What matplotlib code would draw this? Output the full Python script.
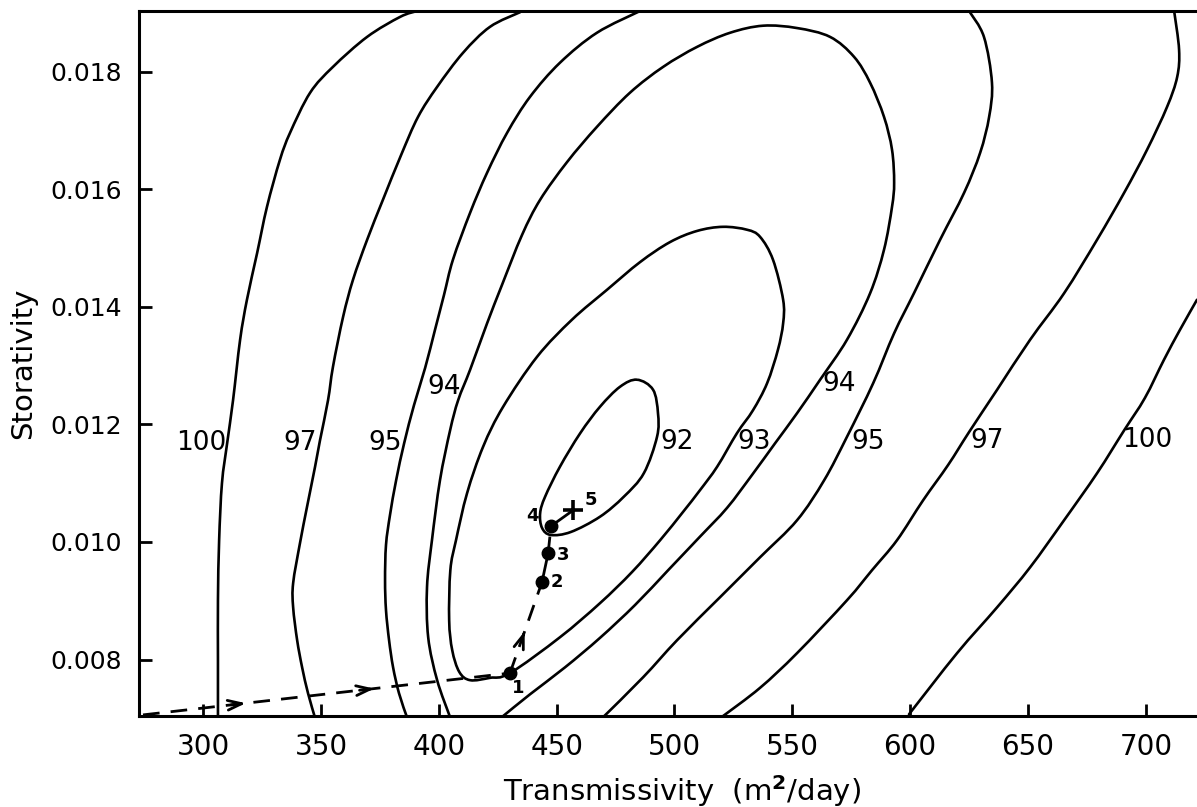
import matplotlib
matplotlib.use("Agg")
import matplotlib.pyplot as plt
from matplotlib.path import Path
from matplotlib.patches import PathPatch

# ---------------- data (T in m^2/day, S dimensionless) ----------------
c100L_T = [390.8, 383.6, 369.6, 355.1, 345.4, 336.9, 332.6, 327.1, 322.9, 318.6, 315.7, 312.7, 310.2, 308.0, 306.8, 306.3, 306.3, 306.3]
c100L_S = [0.01903, 0.01893, 0.01859, 0.01808, 0.01764, 0.01696, 0.01650, 0.01570, 0.01491, 0.01412, 0.01344, 0.01241, 0.01168, 0.01100, 0.01003, 0.00901, 0.00799, 0.00702]

c97L_T = [434.5, 421.7, 410.3, 399.3, 391.2, 384.0, 376.3, 369.6, 363.6, 359.4, 355.1, 353.0, 349.6, 347.5, 344.1, 341.1, 338.2, 338.2, 339.9, 342.0, 344.5, 347.5]
c97L_S = [0.01901, 0.01876, 0.01832, 0.01774, 0.01723, 0.01658, 0.01582, 0.01514, 0.01446, 0.01383, 0.01298, 0.01241, 0.01173, 0.01128, 0.01060, 0.00998, 0.00930, 0.00889, 0.00833, 0.00787, 0.00743, 0.00701]

c95L_T = [485.4, 467.1, 451.4, 438.7, 429.0, 420.5, 413.3, 406.0, 402.2, 398.4, 394.2, 389.5, 385.3, 381.9, 379.3, 377.6, 377.2, 377.6, 378.9, 380.6, 383.1, 386.5]
c95L_S = [0.01903, 0.01866, 0.01815, 0.01757, 0.01696, 0.01628, 0.01560, 0.01480, 0.01420, 0.01361, 0.01296, 0.01233, 0.01168, 0.01105, 0.01046, 0.00995, 0.00935, 0.00884, 0.00833, 0.00787, 0.00743, 0.00702]

c94_T = [404.8, 399.3, 395.5, 395.0, 397.1, 400.5, 404.8, 408.2, 413.3, 420.5, 426.8, 435.3, 443.0, 454.4, 467.1, 481.1, 495.2, 509.6, 523.6, 537.6, 552.0, 566.0, 576.2, 583.0, 588.9, 592.3, 593.2, 592.3, 588.9, 583.0, 573.2, 561.8, 552.0, 542.7, 532.9, 522.3, 510.8, 497.3, 483.3, 468.4, 453.6, 438.7, 427.3]
c94_S = [0.00702, 0.00765, 0.00838, 0.00923, 0.01003, 0.01105, 0.01190, 0.01241, 0.01293, 0.01372, 0.01437, 0.01522, 0.01582, 0.01646, 0.01706, 0.01764, 0.01808, 0.01842, 0.01866, 0.01878, 0.01874, 0.01859, 0.01825, 0.01781, 0.01723, 0.01667, 0.01611, 0.01570, 0.01497, 0.01423, 0.01344, 0.01276, 0.01219, 0.01168, 0.01114, 0.01058, 0.01009, 0.00952, 0.00893, 0.00837, 0.00787, 0.00741, 0.00704]

c93_T = [407.3, 412.0, 418.8, 427.3, 441.7, 456.5, 471.4, 485.4, 498.1, 509.6, 520.6, 530.8, 536.3, 541.8, 546.1, 546.1, 543.9, 539.3, 533.3, 526.5, 518.1, 510.8, 503.6, 493.9, 482.0, 468.4, 451.4, 430.2, 421.7, 413.3, 408.7, 405.7, 404.4, 404.9]
c93_S = [0.01003, 0.01083, 0.01162, 0.01230, 0.01315, 0.01378, 0.01429, 0.01476, 0.01510, 0.01529, 0.01536, 0.01531, 0.01519, 0.01480, 0.01412, 0.01372, 0.01327, 0.01270, 0.01224, 0.01185, 0.01128, 0.01088, 0.01051, 0.01003, 0.00949, 0.00896, 0.00838, 0.00777, 0.00769, 0.00765, 0.00779, 0.00816, 0.00867, 0.00952]

c92_T = [484.1, 490.9, 493.0, 492.6, 487.0, 478.5, 468.4, 456.0, 447.5, 443.8, 443.0, 445.1, 451.4, 460.0, 468.4, 476.9]
c92_S = [0.01276, 0.01259, 0.01219, 0.01179, 0.01117, 0.01077, 0.01043, 0.01017, 0.01012, 0.01024, 0.01049, 0.01077, 0.01128, 0.01185, 0.01230, 0.01264]

c95R_T = [625.0, 631.3, 634.7, 633.5, 629.7, 622.9, 612.7, 601.6, 593.2, 584.3, 573.2, 563.5, 552.0, 536.3, 519.3, 501.1, 486.7, 469.7]
c95R_S = [0.01903, 0.01859, 0.01781, 0.01723, 0.01662, 0.01594, 0.01514, 0.01423, 0.01355, 0.01270, 0.01179, 0.01105, 0.01037, 0.00974, 0.00906, 0.00833, 0.00770, 0.00702]

c97R_T = [712.0, 714.1, 713.3, 709.0, 700.5, 690.8, 679.3, 665.3, 650.9, 636.9, 625.0, 616.1, 605.5, 594.4, 583.8, 573.2, 552.0, 536.3, 520.6]
c97R_S = [0.01903, 0.01837, 0.01791, 0.01740, 0.01667, 0.01594, 0.01514, 0.01423, 0.01344, 0.01259, 0.01187, 0.01131, 0.01071, 0.01003, 0.00952, 0.00901, 0.00811, 0.00752, 0.00704]

c100R_T = [721.7, 714.5, 707.7, 699.6, 690.8, 679.3, 665.3, 650.9, 636.9, 619.9, 599.5]
c100R_S = [0.01412, 0.01361, 0.01310, 0.01245, 0.01190, 0.01117, 0.01037, 0.00957, 0.00889, 0.00811, 0.00707]

# contour labels
label_text = ["100", "97", "95", "94", "92", "93", "94", "95", "97", "100"]
label_T = [299.1, 341.1, 377.2, 402.2, 501.1, 533.8, 569.8, 582.1, 632.6, 700.5]
label_S = [0.01168, 0.01168, 0.01168, 0.01264, 0.01170, 0.01170, 0.01269, 0.01170, 0.01172, 0.01173]

# search path (start, iterations 1..5)
path_T = [274.5, 430.2, 443.8, 446.4, 447.6, 457.0]
path_S = [0.00706, 0.00777, 0.00932, 0.00981, 0.01027, 0.01054]
step_labels = ["1", "2", "3", "4", "5"]
step_label_T = [433.6, 450.2, 452.7, 439.6, 464.6]
step_label_S = [0.00752, 0.00932, 0.00978, 0.01044, 0.01071]

x_ticks = [300, 350, 400, 450, 500, 550, 600, 650, 700]
y_ticks = [0.008, 0.010, 0.012, 0.014, 0.016, 0.018]
y_ticklabels = ["0.008", "0.010", "0.012", "0.014", "0.016", "0.018"]

# ---------------- figure ----------------
W, H = 1197, 807
fig = plt.figure(figsize=(W / 100, H / 100), dpi=100)
ax = fig.add_axes([139 / W, 91 / H, 1058 / W, 705 / H])
ax.set_xlim(272.8, 721.7)
ax.set_ylim(0.007041, 0.01903)

lw = 1.9


def smooth_path(T, S, closed=False):
    """Catmull-Rom curve through the read points, drawn as cubic Bezier path."""
    pts = list(zip(T, S))
    n = len(pts)
    verts = [pts[0]]
    codes = [Path.MOVETO]
    segs = n if closed else n - 1
    for i in range(segs):
        p1 = pts[i]
        p2 = pts[(i + 1) % n]
        if closed:
            p0 = pts[(i - 1) % n]
            p3 = pts[(i + 2) % n]
        else:
            p0 = pts[i - 1] if i > 0 else p1
            p3 = pts[i + 2] if i + 2 < n else p2
        c1 = (p1[0] + (p2[0] - p0[0]) / 6.0, p1[1] + (p2[1] - p0[1]) / 6.0)
        c2 = (p2[0] - (p3[0] - p1[0]) / 6.0, p2[1] - (p3[1] - p1[1]) / 6.0)
        verts += [c1, c2, p2]
        codes += [Path.CURVE4] * 3
    return Path(verts, codes)


open_contours = [(c100L_T, c100L_S), (c97L_T, c97L_S), (c95L_T, c95L_S), (c94_T, c94_S),
                 (c95R_T, c95R_S), (c97R_T, c97R_S), (c100R_T, c100R_S)]
closed_contours = [(c93_T, c93_S), (c92_T, c92_S)]
for T, S in open_contours:
    ax.add_patch(PathPatch(smooth_path(T, S), fill=False, edgecolor="black", lw=lw,
                           joinstyle="round", capstyle="round"))
for T, S in closed_contours:
    ax.add_patch(PathPatch(smooth_path(T, S, closed=True), fill=False, edgecolor="black",
                           lw=lw, joinstyle="round"))

for txt, t, s in zip(label_text, label_T, label_S):
    ax.text(t, s, txt, ha="center", va="center", fontsize=19, color="black")

# search path
dash = (0, (6, 4))
styles = [dash, dash, "-", dash, "-"]
for i in range(5):
    ax.plot(path_T[i:i + 2], path_S[i:i + 2], color="black", lw=2.0, linestyle=styles[i])


def arrow_on_leg(i, frac):
    t0, s0 = path_T[i], path_S[i]
    t1, s1 = path_T[i + 1], path_S[i + 1]
    ta, sa = t0 + (t1 - t0) * frac, s0 + (s1 - s0) * frac
    tb, sb = t0 + (t1 - t0) * (frac + 0.04), s0 + (s1 - s0) * (frac + 0.04)
    ax.annotate("", xy=(tb, sb), xytext=(ta, sa),
                arrowprops=dict(arrowstyle="->,head_length=1.0,head_width=0.35",
                                color="black", lw=2.0, shrinkA=0, shrinkB=0))


arrow_on_leg(0, 0.24)
arrow_on_leg(0, 0.59)
arrow_on_leg(1, 0.42)

ax.plot(path_T[1:5], path_S[1:5], "o", color="black", markersize=9)
ax.plot([path_T[5]], [path_S[5]], marker="+", color="black", markersize=15, mew=2.6)

for txt, t, s in zip(step_labels, step_label_T, step_label_S):
    ax.text(t, s, txt, ha="center", va="center", fontsize=13, fontweight="bold")

# axes styling
for side in ["left", "bottom", "top"]:
    ax.spines[side].set_linewidth(2.2)
ax.spines["right"].set_visible(False)

ax.set_xticks(x_ticks)
ax.set_xticklabels([str(v) for v in x_ticks])
ax.set_yticks(y_ticks)
ax.set_yticklabels(y_ticklabels)
ax.tick_params(axis="both", direction="in", length=9, width=2.0, top=False, right=False)
ax.tick_params(axis="x", labelsize=20, pad=12)
ax.tick_params(axis="y", labelsize=18, pad=12)

ax.set_xlabel("Transmissivity  (m$^{\\mathbf{2}}$/day)", fontsize=21)
ax.xaxis.set_label_coords((682 - 139) / 1058, -(791 - 716) / 705)
ax.xaxis.label.set_va("center")
ax.set_ylabel("Storativity", fontsize=21)
ax.yaxis.set_label_coords((23 - 139) / 1058, 0.5)
ax.yaxis.label.set_va("center")

fig.savefig("out.png", dpi=100)
